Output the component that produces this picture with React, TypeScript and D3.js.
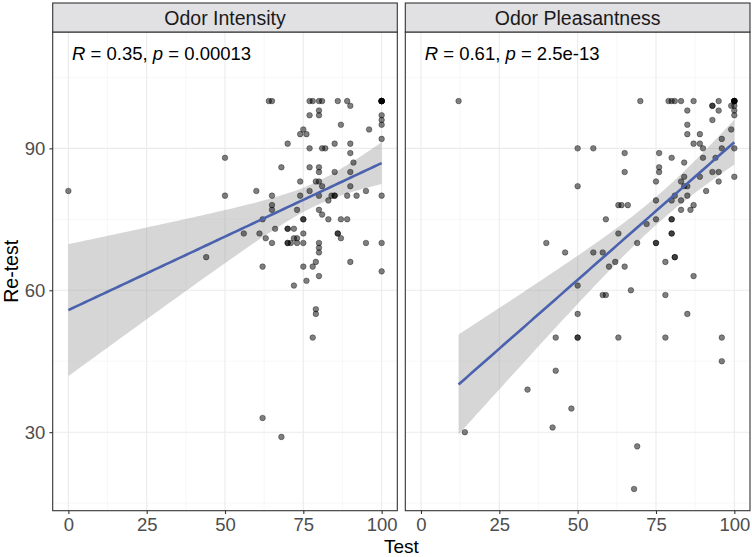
import { useEffect, useRef } from 'react';
import * as d3 from 'd3';

// facet names and the stat_cor labels [R, p]
const facets = ['Odor Intensity', 'Odor Pleasantness'];
const corLabels = [
  ['0.35', '0.00013'],
  ['0.61', '2.5e-13'],
];

const xTicks = [0, 25, 50, 75, 100];
const yTicks = [30, 60, 90];
const xMinor = [12.5, 37.5, 62.5, 87.5];
const yMinor = [15, 45, 75, 105];

// [test, retest]
const intensity = [
  [0, 81], [44, 67], [50, 88], [50, 80], [56, 72], [60, 81], [61, 72], [62, 75], [62, 65], [62, 33], [63, 71],
  [64, 100], [65, 100], [65, 80], [65, 78], [65, 77], [65, 70], [66, 73], [68, 86], [68, 29],
  [70, 91], [70, 73], [70, 73], [70, 70], [70, 70], [71, 70],
  [72, 73], [72, 71], [72, 61], [73, 77], [73, 71], [73, 70], [74, 93], [74, 83], [74, 80],
  [75, 94], [75, 75], [75, 75], [75, 72], [75, 70], [75, 65], [76, 93], [76, 62],
  [77, 100], [77, 97], [77, 90], [77, 86], [77, 81], [78, 100], [78, 65], [78, 50],
  [79, 83], [79, 66], [79, 56], [79, 55],
  [80, 100], [80, 98], [80, 97], [80, 86], [80, 85], [80, 83], [80, 80], [80, 77], [80, 70], [80, 69], [80, 68], [80, 63],
  [81, 100], [81, 90], [81, 82], [81, 76], [82, 90], [83, 79], [83, 75], [84, 80], [85, 80], [85, 80], [85, 91], [85, 85],
  [86, 100], [86, 72], [86, 72], [87, 95], [87, 75], [87, 71], [89, 100], [89, 80], [89, 75],
  [90, 99], [90, 91], [90, 89], [90, 85], [90, 82], [90, 66], [91, 87],
  [92, 80], [95, 81], [95, 70], [96, 94],
  [100, 100], [100, 100], [100, 100], [100, 100], [100, 100], [100, 100], [100, 100],
  [100, 97], [100, 96], [100, 95], [100, 92], [100, 80], [100, 70], [100, 64],
];

const pleasantness = [
  [12, 100], [14, 30], [34, 39], [40, 70], [42, 31], [43, 50], [43, 43], [46, 68], [48, 35],
  [50, 90], [50, 82], [50, 61], [50, 55], [50, 50], [50, 50],
  [55, 90], [55, 68], [58, 68], [58, 59], [59, 59], [59, 75], [60, 65], [62, 66], [63, 78], [64, 78], [66, 78],
  [63, 72], [63, 50], [65, 89], [65, 85], [65, 65], [67, 60], [68, 18], [69, 27], [69, 70],
  [70, 100], [72, 74], [75, 83], [75, 79], [75, 75], [75, 70], [75, 70], [76, 89], [76, 86], [76, 85],
  [78, 66], [78, 59], [78, 50],
  [79, 100], [80, 100], [81, 100], [80, 88], [80, 79], [80, 75], [80, 75], [80, 72], [80, 72], [81, 80], [81, 67], [81, 67],
  [83, 100], [83, 83], [83, 79], [83, 77], [84, 87], [84, 84], [84, 82], [85, 98], [85, 95], [85, 93], [85, 82], [85, 80], [85, 55],
  [86, 77], [87, 100], [87, 91], [87, 78], [87, 63], [89, 93], [89, 91], [89, 84], [90, 90], [90, 88], [91, 81],
  [93, 99], [93, 99], [93, 96], [93, 85], [94, 88], [95, 100], [95, 98], [95, 85], [95, 83], [96, 92], [96, 90], [96, 50], [96, 45],
  [99, 99], [99, 94], [100, 100], [100, 100], [100, 100], [100, 100], [100, 100], [100, 100],
  [100, 99], [100, 98], [100, 97], [100, 90], [100, 84],
];

const series = [intensity, pleasantness];

const W = 752;
const H = 557;
const font = '"Liberation Sans", Arial, Helvetica, sans-serif';

// two-sided 95% t quantile (Cornish-Fisher style approximation)
const tq = (df) => {
  const z = 1.959964;
  return z + (z ** 3 + z) / (4 * df) + (5 * z ** 5 + 16 * z ** 3 + 3 * z) / (96 * df * df);
};

// lm fit with confidence band, like geom_smooth(method = 'lm')
const fit = (pts) => {
  const n = pts.length;
  const mx = d3.mean(pts, (d) => d[0]);
  const my = d3.mean(pts, (d) => d[1]);
  const sxx = d3.sum(pts, (d) => (d[0] - mx) ** 2);
  const sxy = d3.sum(pts, (d) => (d[0] - mx) * (d[1] - my));
  const b = sxy / sxx;
  const a = my - b * mx;
  const s2 = d3.sum(pts, (d) => (d[1] - a - b * d[0]) ** 2) / (n - 2);
  const t = tq(n - 2);
  const [lo, hi] = d3.extent(pts, (d) => d[0]);
  return d3.range(81).map((i) => {
    const x = lo + ((hi - lo) * i) / 80;
    const yhat = a + b * x;
    const se = Math.sqrt(s2 * (1 / n + (x - mx) ** 2 / sxx));
    return { x, y: yhat, lo: yhat - t * se, hi: yhat + t * se };
  });
};

const draw = (node) => {
  d3.select(node).selectAll('*').remove();
  const svg = d3.select(node);

  const panels = [
    { left: 52.7, right: 397.3 },
    { left: 405.3, right: 750 },
  ];
  const top = 32;
  const bottom = 510.7;
  const stripTop = 3;

  const y = d3.scaleLinear().domain([13.4, 114.6]).range([bottom, top]);

  panels.forEach((p, i) => {
    const x = d3.scaleLinear().domain([-5, 105]).range([p.left, p.right]);
    const g = svg.append('g');

    g.append('rect')
      .attr('x', p.left)
      .attr('y', top)
      .attr('width', p.right - p.left)
      .attr('height', bottom - top)
      .attr('fill', '#fff');

    // grid
    g.selectAll('.xminor')
      .data(xMinor)
      .enter()
      .append('line')
      .attr('x1', (d) => x(d))
      .attr('x2', (d) => x(d))
      .attr('y1', top)
      .attr('y2', bottom)
      .attr('stroke', '#f2f2f2')
      .attr('stroke-width', 0.6);
    g.selectAll('.yminor')
      .data(yMinor)
      .enter()
      .append('line')
      .attr('x1', p.left)
      .attr('x2', p.right)
      .attr('y1', (d) => y(d))
      .attr('y2', (d) => y(d))
      .attr('stroke', '#f2f2f2')
      .attr('stroke-width', 0.6);
    g.selectAll('.xmajor')
      .data(xTicks)
      .enter()
      .append('line')
      .attr('x1', (d) => x(d))
      .attr('x2', (d) => x(d))
      .attr('y1', top)
      .attr('y2', bottom)
      .attr('stroke', '#ebebeb')
      .attr('stroke-width', 1.1);
    g.selectAll('.ymajor')
      .data(yTicks)
      .enter()
      .append('line')
      .attr('x1', p.left)
      .attr('x2', p.right)
      .attr('y1', (d) => y(d))
      .attr('y2', (d) => y(d))
      .attr('stroke', '#ebebeb')
      .attr('stroke-width', 1.1);

    // smooth
    const f = fit(series[i]);
    g.append('path')
      .datum(f)
      .attr('fill', '#999999')
      .attr('fill-opacity', 0.4)
      .attr(
        'd',
        d3
          .area()
          .x((d) => x(d.x))
          .y0((d) => y(d.lo))
          .y1((d) => y(d.hi)),
      );

    // points
    g.selectAll('circle')
      .data(series[i])
      .enter()
      .append('circle')
      .attr('cx', (d) => x(d[0]))
      .attr('cy', (d) => y(d[1]))
      .attr('r', 2.8)
      .attr('fill', '#000')
      .attr('fill-opacity', 0.5)
      .attr('stroke', '#000')
      .attr('stroke-opacity', 0.5)
      .attr('stroke-width', 0.7);

    g.append('path')
      .datum(f)
      .attr('fill', 'none')
      .attr('stroke', '#4a61ad')
      .attr('stroke-width', 2.6)
      .attr(
        'd',
        d3
          .line()
          .x((d) => x(d.x))
          .y((d) => y(d.y)),
      );

    // R / p label
    const lab = g
      .append('text')
      .attr('x', x(1.2))
      .attr('y', y(110) + 6.5)
      .attr('font-family', font)
      .attr('font-size', 18.5)
      .attr('fill', '#000');
    lab.append('tspan').attr('font-style', 'italic').text('R');
    lab.append('tspan').text(` = ${corLabels[i][0]}, `);
    lab.append('tspan').attr('font-style', 'italic').text('p');
    lab.append('tspan').text(` = ${corLabels[i][1]}`);

    // border
    g.append('rect')
      .attr('x', p.left)
      .attr('y', top)
      .attr('width', p.right - p.left)
      .attr('height', bottom - top)
      .attr('fill', 'none')
      .attr('stroke', '#333333')
      .attr('stroke-width', 1.1);

    // strip
    g.append('rect')
      .attr('x', p.left)
      .attr('y', stripTop)
      .attr('width', p.right - p.left)
      .attr('height', top - stripTop)
      .attr('fill', '#e1e0e3')
      .attr('stroke', '#333333')
      .attr('stroke-width', 1.1);
    g.append('text')
      .attr('x', (p.left + p.right) / 2)
      .attr('y', (stripTop + top) / 2)
      .attr('dy', '0.36em')
      .attr('text-anchor', 'middle')
      .attr('font-family', font)
      .attr('font-size', 19.5)
      .attr('fill', '#1a1a1a')
      .text(facets[i]);

    // x axis
    const xa = g
      .append('g')
      .attr('transform', `translate(0, ${bottom})`)
      .call(d3.axisBottom(x).tickValues(xTicks).tickSize(3.3).tickPadding(4));
    xa.select('.domain').remove();
    xa.selectAll('line').attr('stroke', '#333333').attr('stroke-width', 1.1);
    xa.selectAll('text')
      .attr('font-family', font)
      .attr('font-size', 18.5)
      .attr('fill', '#4d4d4d');

    // y axis on the first panel only
    if (i === 0) {
      const ya = g
        .append('g')
        .attr('transform', `translate(${p.left}, 0)`)
        .call(d3.axisLeft(y).tickValues(yTicks).tickSize(3.3).tickPadding(4));
      ya.select('.domain').remove();
      ya.selectAll('line').attr('stroke', '#333333').attr('stroke-width', 1.1);
      ya.selectAll('text')
        .attr('font-family', font)
        .attr('font-size', 18.5)
        .attr('fill', '#4d4d4d');
    }
  });

  svg
    .append('text')
    .attr('x', (panels[0].left + panels[1].right) / 2)
    .attr('y', 553)
    .attr('text-anchor', 'middle')
    .attr('font-family', font)
    .attr('font-size', 19)
    .attr('fill', '#000')
    .text('Test');

  svg
    .append('text')
    .attr('transform', `translate(18, ${(top + bottom) / 2}) rotate(-90)`)
    .attr('text-anchor', 'middle')
    .attr('font-family', font)
    .attr('font-size', 19.5)
    .attr('fill', '#000')
    .text('Re-test');
};

export default function App() {
  const ref = useRef(null);

  useEffect(() => {
    draw(ref.current);
  }, []);

  return (
    <>
      <style>{'body { margin: 0; }'}</style>
      <svg ref={ref} width={W} height={H} style={{ display: 'block', background: '#fff' }} />
    </>
  );
}
